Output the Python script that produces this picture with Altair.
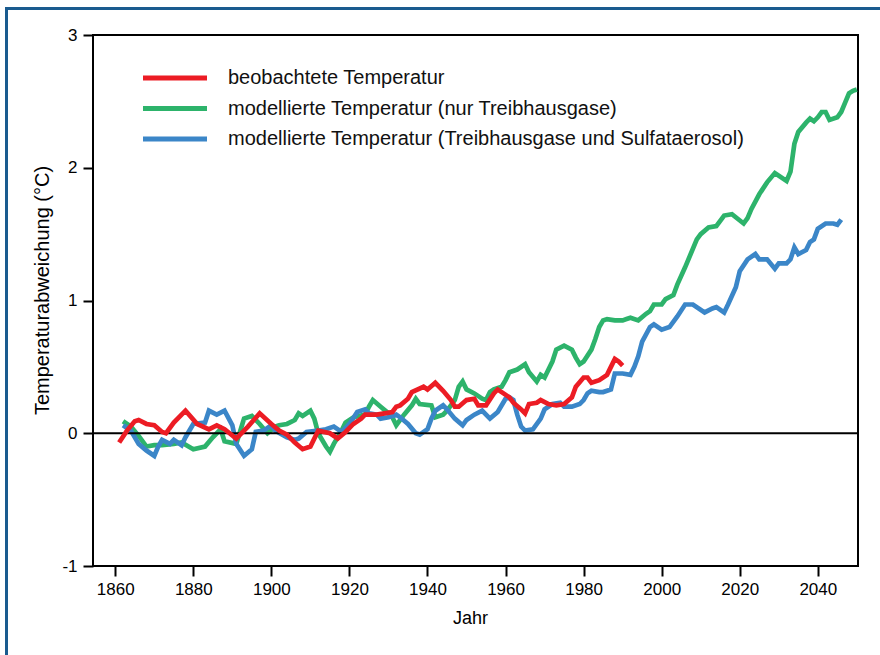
import altair as alt
import pandas as pd

# Beobachtete Temperaturabweichung (°C)
obs_years = [1861, 1863, 1865, 1866, 1868, 1870, 1872, 1873, 1875, 1878, 1881, 1884,
             1886, 1888, 1891, 1894, 1897, 1900, 1902, 1904, 1906, 1908, 1910, 1912,
             1915, 1917, 1919, 1921, 1923, 1924, 1927, 1929, 1931, 1932, 1933, 1935,
             1936, 1939, 1940, 1942, 1944, 1946, 1947, 1948, 1950, 1952, 1953, 1955,
             1957, 1958, 1959, 1961, 1962, 1964, 1965, 1966, 1968, 1969, 1971, 1973,
             1975, 1977, 1978, 1980, 1981, 1982, 1984, 1986, 1987, 1988, 1989, 1990]
obs_vals = [-0.07, 0.02, 0.09, 0.10, 0.07, 0.06, 0.01, 0.00, 0.08, 0.17, 0.07, 0.03,
            0.06, 0.03, -0.04, 0.05, 0.15, 0.07, 0.02, -0.01, -0.07, -0.12, -0.10, 0.02,
            0.00, -0.04, 0.01, 0.07, 0.11, 0.14, 0.14, 0.15, 0.16, 0.20, 0.21, 0.26,
            0.31, 0.35, 0.33, 0.38, 0.32, 0.25, 0.20, 0.20, 0.25, 0.26, 0.21, 0.21,
            0.30, 0.33, 0.31, 0.27, 0.23, 0.18, 0.15, 0.22, 0.23, 0.25, 0.22, 0.21,
            0.22, 0.27, 0.35, 0.42, 0.42, 0.38, 0.40, 0.44, 0.50, 0.56, 0.54, 0.51]

# Modell: nur Treibhausgase
ghg_years = [1862, 1864, 1866, 1868, 1870, 1872, 1875, 1877, 1880, 1883, 1885, 1887,
             1888, 1891, 1893, 1895, 1897, 1899, 1901, 1902, 1904, 1906, 1907, 1908,
             1910, 1911, 1912, 1914, 1915, 1916, 1918, 1919, 1921, 1924, 1925, 1926,
             1928, 1930, 1931, 1932, 1933, 1934, 1936, 1937, 1938, 1941, 1942, 1944,
             1945, 1947, 1948, 1949, 1950, 1952, 1954, 1955, 1956, 1957, 1959, 1960,
             1961, 1963, 1965, 1966, 1968, 1969, 1970, 1972, 1973, 1975, 1977, 1978,
             1979, 1980, 1982, 1983, 1984, 1985, 1986, 1988, 1990, 1991, 1992, 1994,
             1996, 1997, 1998, 2000, 2001, 2003, 2004, 2006, 2009, 2010, 2012, 2014,
             2016, 2018, 2021, 2022, 2023, 2025, 2027, 2029, 2032, 2033, 2034, 2035,
             2037, 2038, 2039, 2040, 2041, 2042, 2043, 2045, 2046, 2047, 2048, 2049,
             2050]
ghg_vals = [0.09, 0.05, -0.02, -0.10, -0.09, -0.09, -0.08, -0.07, -0.12, -0.10, -0.03, 0.03,
            -0.06, -0.08, 0.11, 0.13, 0.07, 0.00, 0.05, 0.06, 0.07, 0.10, 0.15, 0.13,
            0.17, 0.11, 0.00, -0.10, -0.14, -0.08, 0.02, 0.08, 0.12, 0.14, 0.20, 0.25,
            0.20, 0.15, 0.12, 0.06, 0.10, 0.14, 0.21, 0.26, 0.22, 0.21, 0.12, 0.14,
            0.17, 0.25, 0.35, 0.39, 0.33, 0.30, 0.26, 0.25, 0.31, 0.33, 0.35, 0.40,
            0.46, 0.48, 0.52, 0.46, 0.39, 0.44, 0.42, 0.54, 0.63, 0.66, 0.63, 0.57,
            0.52, 0.54, 0.63, 0.71, 0.80, 0.85, 0.86, 0.85, 0.85, 0.86, 0.87, 0.85,
            0.90, 0.92, 0.97, 0.97, 1.01, 1.04, 1.12, 1.25, 1.46, 1.50, 1.55, 1.56,
            1.64, 1.65, 1.58, 1.62, 1.69, 1.80, 1.89, 1.96, 1.90, 1.97, 2.18, 2.27,
            2.34, 2.37, 2.35, 2.38, 2.42, 2.42, 2.36, 2.38, 2.42, 2.49, 2.56, 2.58,
            2.59]

# Modell: Treibhausgase und Sulfataerosol
sulf_years = [1862, 1864, 1866, 1868, 1870, 1871, 1872, 1874, 1875, 1877, 1878, 1880,
              1883, 1884, 1886, 1888, 1890, 1891, 1893, 1895, 1896, 1898, 1900, 1901,
              1904, 1906, 1907, 1909, 1912, 1914, 1916, 1918, 1920, 1922, 1924, 1925,
              1927, 1928, 1930, 1932, 1933, 1935, 1937, 1938, 1940, 1941, 1942, 1944,
              1945, 1947, 1949, 1950, 1952, 1954, 1955, 1956, 1958, 1960, 1961, 1962,
              1963, 1964, 1965, 1967, 1969, 1970, 1972, 1974, 1975, 1977, 1979, 1980,
              1981, 1982, 1984, 1985, 1987, 1988, 1990, 1992, 1993, 1994, 1995, 1997,
              1998, 2000, 2002, 2004, 2006, 2008, 2011, 2013, 2014, 2016, 2017, 2019,
              2020, 2022, 2024, 2025, 2027, 2029, 2030, 2032, 2033, 2034, 2035, 2037,
              2038, 2039, 2040, 2042, 2044, 2045, 2046]
sulf_vals = [0.06, 0.02, -0.08, -0.13, -0.17, -0.10, -0.05, -0.08, -0.05, -0.09, -0.03, 0.07,
             0.08, 0.17, 0.14, 0.17, 0.06, -0.08, -0.17, -0.12, 0.01, 0.02, 0.06, 0.02,
             -0.03, -0.05, -0.04, 0.01, 0.02, 0.03, 0.05, 0.01, 0.07, 0.16, 0.18, 0.15,
             0.14, 0.11, 0.12, 0.14, 0.12, 0.07, 0.00, -0.01, 0.03, 0.11, 0.17, 0.21,
             0.18, 0.11, 0.06, 0.10, 0.14, 0.17, 0.14, 0.11, 0.16, 0.26, 0.27, 0.25,
             0.14, 0.05, 0.02, 0.03, 0.11, 0.18, 0.22, 0.23, 0.20, 0.20, 0.22, 0.25,
             0.30, 0.32, 0.31, 0.31, 0.33, 0.45, 0.45, 0.44, 0.50, 0.58, 0.69, 0.80,
             0.82, 0.78, 0.80, 0.88, 0.97, 0.97, 0.91, 0.94, 0.95, 0.91, 0.97, 1.10,
             1.22, 1.31, 1.35, 1.31, 1.31, 1.24, 1.28, 1.28, 1.31, 1.40, 1.35, 1.38,
             1.44, 1.46, 1.54, 1.58, 1.58, 1.57, 1.61]

series_labels = [
    "beobachtete Temperatur",
    "modellierte Temperatur (nur Treibhausgase)",
    "modellierte Temperatur (Treibhausgase und Sulfataerosol)",
]
series_colors = ["#ec1c24", "#2db36b", "#3b86c8"]

x_ticks = [1860, 1880, 1900, 1920, 1940, 1960, 1980, 2000, 2020, 2040]
y_ticks = [-1, 0, 1, 2, 3]

FONT = "Liberation Sans"
W, H = 765, 531
PAD_L, PAD_T = 93, 35

obs = pd.DataFrame({"Jahr": obs_years, "Wert": obs_vals})
ghg = pd.DataFrame({"Jahr": ghg_years, "Wert": ghg_vals})
sulf = pd.DataFrame({"Jahr": sulf_years, "Wert": sulf_vals})

# plain hyphen-minus in tick labels
plain_label = "'' + datum.value"

x_enc = alt.X(
    "Jahr:Q",
    scale=alt.Scale(domain=[1854.3, 2050.3], nice=False, zero=False),
    axis=alt.Axis(
        values=x_ticks, labelExpr=plain_label, title="Jahr", domain=False, grid=False,
        tickColor="black", tickWidth=2, tickSize=10, labelPadding=5,
        labelFont=FONT, labelFontSize=17, labelColor="black",
        titleFont=FONT, titleFontSize=18, titleFontWeight="normal", titleColor="black",
        titleX=377, titleY=52, titleBaseline="middle",
    ),
)
y_enc = alt.Y(
    "Wert:Q",
    scale=alt.Scale(domain=[-1, 3], nice=False, zero=False),
    axis=alt.Axis(
        values=y_ticks, labelExpr=plain_label, title="Temperaturabweichung (°C)", domain=False,
        grid=False, tickColor="black", tickWidth=2, tickSize=10, labelPadding=6,
        labelFont=FONT, labelFontSize=17, labelColor="black",
        titleFont=FONT, titleFontSize=20, titleFontWeight="normal", titleColor="black",
        titleX=-51, titleY=255, titleAngle=270, titleBaseline="middle", titleAlign="center",
    ),
)


def series_line(df, color):
    return alt.Chart(df).mark_line(color=color, strokeWidth=4.7, clip=True).encode(
        x=x_enc, y=y_enc
    )


zero_line = alt.Chart(pd.DataFrame({"Wert": [0]})).mark_rule(
    color="black", strokeWidth=2
).encode(y=alt.Y("Wert:Q"))

# Lines drawn green, blue, then observed red on top
layers = [
    series_line(ghg, series_colors[1]),
    series_line(sulf, series_colors[2]),
    zero_line,
    series_line(obs, series_colors[0]),
]

# Legend block in the upper left of the plot
for i, (label, color) in enumerate(zip(series_labels, series_colors)):
    row_y = 43 + 30.5 * i
    one = pd.DataFrame({"label": [label]})
    layers.append(
        alt.Chart(one).mark_rule(color=color, strokeWidth=5).encode(
            x=alt.value(50), x2=alt.value(114), y=alt.value(row_y)
        )
    )
    layers.append(
        alt.Chart(one).mark_text(
            align="left", baseline="middle", font=FONT, fontSize=20, color="#111111"
        ).encode(x=alt.value(135), y=alt.value(row_y), text="label:N")
    )

# Outer blue frame around the figure
frame = alt.Chart(pd.DataFrame({"f": [0]})).mark_rect(
    fillOpacity=0, stroke="#1a5b8f", strokeWidth=3
).encode(
    x=alt.value(6.5 - PAD_L), x2=alt.value(900), y=alt.value(8.5 - PAD_T), y2=alt.value(700)
)
layers.append(frame)

chart = alt.layer(*layers).properties(
    width=W,
    height=H,
    autosize=alt.AutoSizeParams(type="none"),
    padding={"left": PAD_L, "top": PAD_T, "right": 880 - PAD_L - W, "bottom": 655 - PAD_T - H},
    background="white",
).configure_view(stroke="black", strokeWidth=2)

chart.save("out.html", embed_options={"renderer": "svg", "actions": False})
